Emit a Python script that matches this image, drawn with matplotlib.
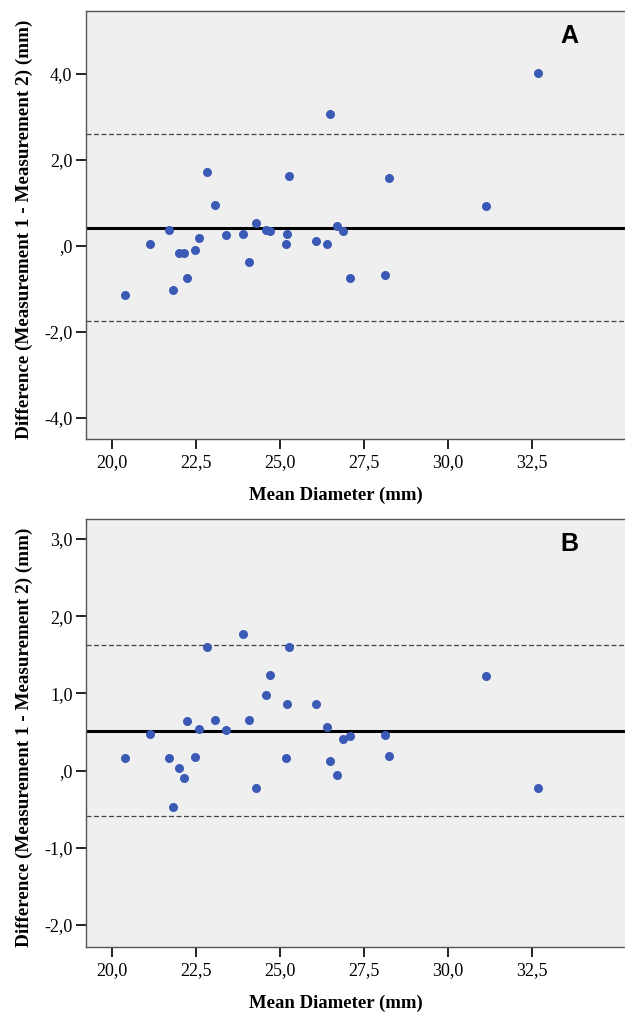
import matplotlib
matplotlib.use("Agg")
import matplotlib.pyplot as plt
from matplotlib.ticker import FuncFormatter

# Mean diameter of the two measurements (mm), same vessels in both panels
mean_diam = [32.69, 26.50, 22.82, 25.28, 28.25, 23.07, 31.12, 24.29, 21.70, 26.69,
             24.58, 24.69, 26.88, 22.60, 23.39, 23.90, 25.20, 21.13, 25.19, 26.06,
             26.39, 22.00, 22.13, 22.46, 24.08, 22.24, 27.09, 28.12, 21.80, 20.39]

# Differences (measurement 1 - measurement 2), mm
diff_a = [4.02, 3.07, 1.71, 1.62, 1.58, 0.94, 0.92, 0.54, 0.37, 0.47,
          0.37, 0.34, 0.34, 0.19, 0.26, 0.27, 0.28, 0.04, 0.05, 0.11,
          0.05, -0.18, -0.17, -0.10, -0.37, -0.74, -0.75, -0.69, -1.04, -1.14]
diff_b = [-0.22, 0.13, 1.60, 1.60, 0.19, 0.65, 1.23, -0.22, 0.17, -0.06,
          0.98, 1.24, 0.41, 0.54, 0.53, 1.77, 0.86, 0.47, 0.16, 0.87,
          0.57, 0.03, -0.09, 0.18, 0.66, 0.64, 0.45, 0.46, -0.47, 0.16]

# Bias and 95% limits of agreement
bias_a, loa_a = 0.42, (-1.75, 2.59)
bias_b, loa_b = 0.52, (-0.59, 1.63)

yticks_a = [-4, -2, 0, 2, 4]
yticks_b = [-2, -1, 0, 1, 2, 3]
xticks = [20.0, 22.5, 25.0, 27.5, 30.0, 32.5]

SERIF = ["Liberation Serif", "DejaVu Serif"]
DOT = "#3a5ab6"
BG = "#efefef"


def spss_fmt(v, _pos):
    # SPSS style: comma decimal, no leading zero for 0
    s = f"{v:.1f}".replace(".", ",")
    if s in ("0,0", "-0,0"):
        s = ",0"
    return s


def bland_altman(ax, y, bias, loa, yticks, ylim, letter):
    ax.set_facecolor(BG)
    ax.axhline(bias, color="black", lw=2.2, zorder=2)
    for lim in loa:
        ax.axhline(lim, color="#444444", lw=0.9, ls=(0, (4, 2)), zorder=2)
    ax.plot(mean_diam, y, "o", color=DOT, ms=6.5, mec="none", zorder=3)
    ax.set_xlim(19.23, 35.27)
    ax.set_ylim(*ylim)
    ax.set_xticks(xticks)
    ax.set_yticks(yticks)
    ax.xaxis.set_major_formatter(FuncFormatter(spss_fmt))
    ax.yaxis.set_major_formatter(FuncFormatter(spss_fmt))
    ax.tick_params(direction="out", length=7, width=1.4, color="#222222",
                   labelsize=13)
    ax.tick_params(axis="y", pad=3)
    ax.tick_params(axis="x", pad=4)
    for lab in ax.get_xticklabels() + ax.get_yticklabels():
        lab.set_family(SERIF)
    for side in ("left", "bottom", "top"):
        ax.spines[side].set_color("#555555")
        ax.spines[side].set_linewidth(1.0)
    ax.spines["right"].set_visible(False)
    ax.set_xlabel("Mean Diameter (mm)", family=SERIF, fontweight="bold",
                  fontsize=13.5)
    ax.set_ylabel("Difference (Measurement 1 - Measurement 2) (mm)",
                  family=SERIF, fontweight="bold", fontsize=13.8)
    ax.xaxis.set_label_coords(0.463, -0.112)
    ax.yaxis.set_label_coords(-0.099, 0.49)
    ax.text(0.896, 0.942, letter, transform=ax.transAxes, ha="center",
            va="center", fontsize=18, fontweight="bold",
            family=["Liberation Sans", "DejaVu Sans"])


W, H = 625, 1013
fig = plt.figure(figsize=(W / 100, H / 100), dpi=100)
ax_a = fig.add_axes([86.3 / W, 1 - 438.7 / H, 1 - 86.3 / W, (438.7 - 10.7) / H])
ax_b = fig.add_axes([86.3 / W, 1 - 946.7 / H, 1 - 86.3 / W, (946.7 - 519.0) / H])

bland_altman(ax_a, diff_a, bias_a, loa_a, yticks_a, (-4.49, 5.47), "A")
bland_altman(ax_b, diff_b, bias_b, loa_b, yticks_b, (-2.28, 3.26), "B")

fig.savefig("out.png", dpi=100)
